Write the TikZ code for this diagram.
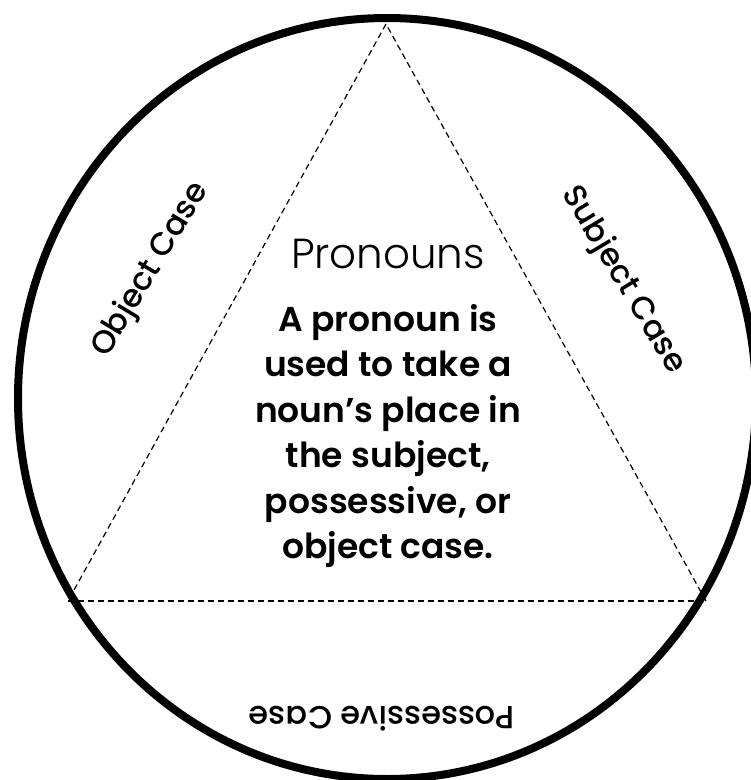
\documentclass[tikz,border=0pt]{standalone}
\usepackage{fontspec}
\setmainfont{Poppins}[BoldFont={Poppins SemiBold}]
\newfontfamily\caseface{Poppins Medium}
\newfontfamily\titleface{Poppins Light}
\usetikzlibrary{positioning}

\begin{document}
\begin{tikzpicture}[x=1pt,y=-1pt,thick]
        \tikzstyle{rim} = [line width=8pt]
        \tikzstyle{fold} = [dashed, line width=1.2pt, dash pattern=on 6pt off 4pt]
        \tikzstyle{case} = [font=\caseface\fontsize{32}{38}\selectfont, text centered]
        \tikzstyle{title} = [font=\titleface\fontsize{42}{48}\selectfont]
        \tikzstyle{body} = [font=\bfseries\fontsize{34.5}{45.5}\selectfont, align=center]

        \useasboundingbox (0,0) rectangle (751,780);
        \clip (0,0) rectangle (751,780);

        % Rim and corners
        \draw[rim] (387,398.5) ellipse [x radius=369, y radius=380.5];
        \coordinate (apex) at (386,24);
        \coordinate (left) at (68,601);
        \coordinate (right) at (706,601);

        % Nodes
        \node[title] (title) at (388,254) {Pronouns};
        \node[body, below=28pt of title] (def) {A pronoun is\\ used to take a\\ noun’s place in\\ the subject,\\ possessive, or\\ object case.};
        \node[case, rotate=59] (obj) at (151,270) {Object Case};
        \node[case, rotate=-59] (subj) at (623,280) {Subject Case};
        \node[case, rotate=180] (poss) at (382,719) {Possessive Case};

        % Edges
        \draw[fold] (apex) -- (left);
        \draw[fold] (left) -- (right);
        \draw[fold] (right) -- (apex);
    \end{tikzpicture}
\end{document}
